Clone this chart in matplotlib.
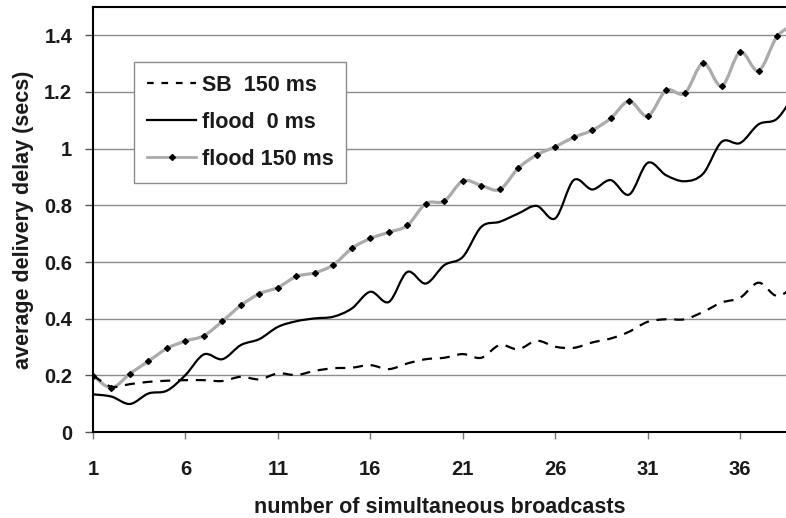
import numpy as np
import matplotlib
matplotlib.use("Agg")
import matplotlib.pyplot as plt
from matplotlib.path import Path
from matplotlib.patches import PathPatch
from matplotlib.lines import Line2D

plt.rcParams['font.family'] = ['Liberation Sans', 'DejaVu Sans']

# number of simultaneous broadcasts
n = np.arange(1, 40)

sb_150 = [0.20, 0.16, 0.169, 0.177, 0.181, 0.183, 0.183, 0.180, 0.195, 0.186,
          0.207, 0.201, 0.216, 0.225, 0.227, 0.236, 0.222, 0.242, 0.257, 0.262,
          0.275, 0.262, 0.307, 0.292, 0.322, 0.301, 0.297, 0.316, 0.330, 0.354,
          0.389, 0.398, 0.398, 0.424, 0.457, 0.474, 0.527, 0.480, 0.52]

flood_0 = [0.133, 0.125, 0.099, 0.136, 0.146, 0.201, 0.274, 0.257, 0.307, 0.328,
           0.371, 0.391, 0.401, 0.407, 0.436, 0.495, 0.459, 0.565, 0.524, 0.589,
           0.618, 0.724, 0.742, 0.771, 0.798, 0.754, 0.889, 0.856, 0.889, 0.838,
           0.950, 0.906, 0.885, 0.912, 1.024, 1.020, 1.086, 1.106, 1.20]

flood_150 = [0.199, 0.156, 0.206, 0.250, 0.295, 0.321, 0.340, 0.391, 0.447, 0.488,
             0.510, 0.549, 0.562, 0.590, 0.648, 0.683, 0.705, 0.729, 0.806, 0.815,
             0.886, 0.870, 0.856, 0.931, 0.978, 1.007, 1.040, 1.065, 1.107, 1.168,
             1.115, 1.206, 1.195, 1.302, 1.221, 1.341, 1.275, 1.396, 1.44]

labels = ['SB  150 ms', 'flood  0 ms', 'flood 150 ms']
xticks = [1, 6, 11, 16, 21, 26, 31, 36]
yticks = [0, 0.2, 0.4, 0.6, 0.8, 1, 1.2, 1.4]
yticklabels = ['0', '0.2', '0.4', '0.6', '0.8', '1', '1.2', '1.4']


def smooth_path(x, y):
    # spreadsheet-style smoothed line: cubic bezier through every point
    p = np.column_stack([x, y]).astype(float)
    p = np.vstack([p[0], p, p[-1]])
    verts = [p[1]]
    codes = [Path.MOVETO]
    for i in range(1, len(p) - 2):
        c1 = p[i] + (p[i + 1] - p[i - 1]) / 6.0
        c2 = p[i + 1] - (p[i + 2] - p[i]) / 6.0
        verts += [c1, c2, p[i + 1]]
        codes += [Path.CURVE4] * 3
    return Path(verts, codes)


fig = plt.figure(figsize=(7.86, 5.18), dpi=100)
ax = fig.add_axes([0.1183, 0.166, 0.8817, 0.8205])

for v in yticks[1:]:
    ax.axhline(v, color='#8c8c8c', lw=1.0, zorder=1)

gray = '#ababab'
ax.add_patch(PathPatch(smooth_path(n, flood_150), fill=False, edgecolor=gray,
                       lw=2.3, zorder=3, capstyle='round'))
ax.plot(n, flood_150, ls='none', marker='D', ms=3.0, color='black', zorder=4)
ax.add_patch(PathPatch(smooth_path(n, flood_0), fill=False, edgecolor='black',
                       lw=1.6, zorder=3))
sb = PathPatch(smooth_path(n, sb_150), fill=False, edgecolor='black',
               lw=1.6, zorder=3)
sb.set_linestyle((0, (4.5, 3.5)))
ax.add_patch(sb)

ax.set_xlim(1, 38.48)
ax.set_ylim(0, 1.5)
ax.set_xticks(xticks)
ax.set_yticks(yticks)
ax.set_yticklabels(yticklabels)
ax.spines['right'].set_visible(False)
for s in ['left', 'bottom', 'top']:
    ax.spines[s].set_linewidth(1.5)
    ax.spines[s].set_color('black')
ax.tick_params(axis='y', length=6, width=1, color='#555555', pad=9,
               labelsize=14.5)
ax.tick_params(axis='x', length=5, width=1, color='#777777', pad=15,
               labelsize=14.5)
for t in ax.get_xticklabels() + ax.get_yticklabels():
    t.set_fontweight('bold')
    t.set_color('#1a1a1a')

ax.set_xlabel('number of simultaneous broadcasts', fontsize=15.5,
              fontweight='bold', labelpad=13, color='#1a1a1a')
ax.set_ylabel('average delivery delay (secs)', fontsize=15.5,
              fontweight='bold', labelpad=7, color='#1a1a1a')

handles = [
    Line2D([], [], color='black', lw=1.6, ls=(0, (3, 3.5))),
    Line2D([], [], color='black', lw=1.6),
    Line2D([], [], color=gray, lw=2.0, marker='D', ms=3.0,
           markerfacecolor='black', markeredgecolor='black'),
]
leg = ax.legend(handles, labels, loc='upper left',
                bbox_to_anchor=(0.059, 0.871), fancybox=False, frameon=True,
                framealpha=1, edgecolor='#8c8c8c', borderpad=0.6,
                labelspacing=0.75, handlelength=2.3, handletextpad=0.25,
                prop={'size': 15.5, 'weight': 'bold'}, borderaxespad=0)
leg.get_frame().set_linewidth(1.0)
leg.set_zorder(5)
for t in leg.get_texts():
    t.set_color('#1a1a1a')

fig.savefig('out.png', dpi=100)
